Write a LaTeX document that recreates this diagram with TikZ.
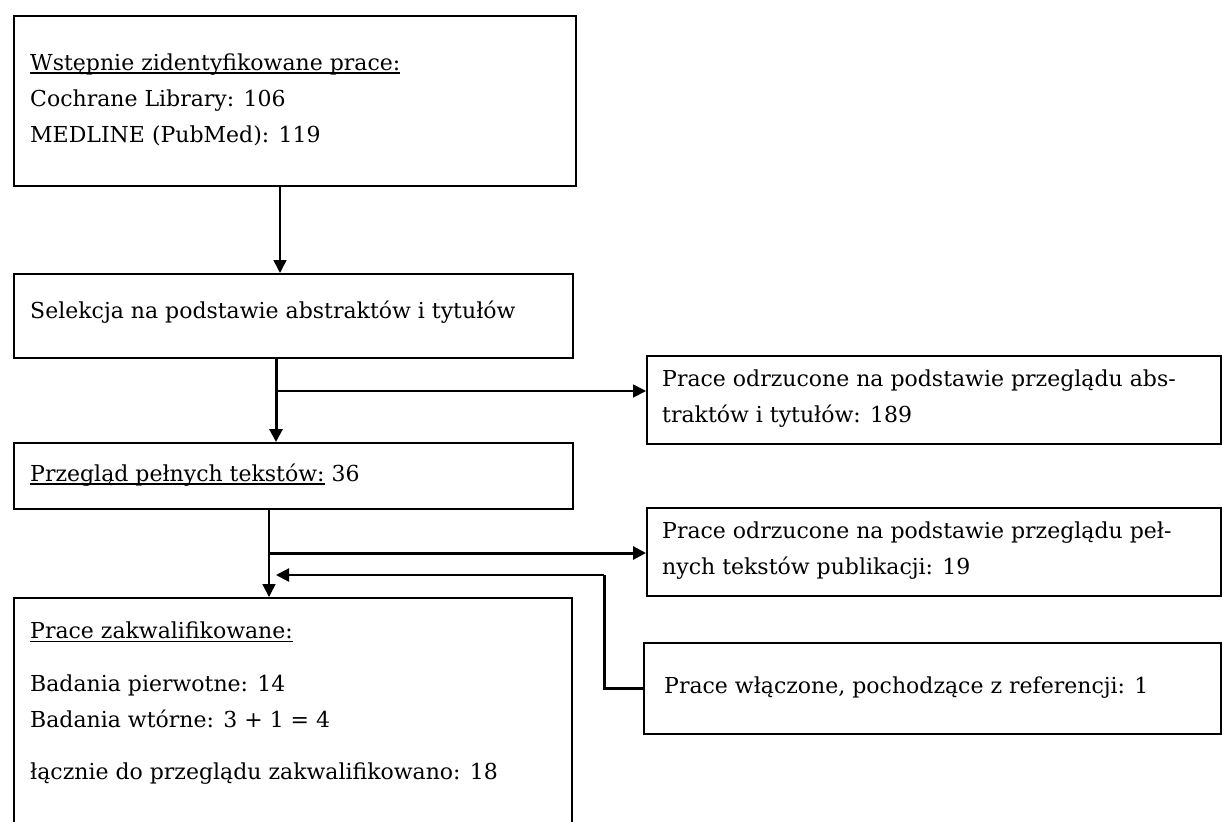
\documentclass[tikz,border=0pt]{standalone}
\usepackage{fontspec}
\setmainfont{DejaVu Serif}
\usetikzlibrary{arrows.meta}
\newcommand{\ul}[1]{\setbox0\hbox{#1}\rlap{\rule[-3.5pt]{\wd0}{1.8pt}}\box0\relax}
\tikzset{
  box/.style={draw=black, line width=2.4pt, fill=white, inner sep=0pt, anchor=north west},
  txt/.style={anchor=west, align=left, inner sep=0pt, font=\fontsize{22}{36}\selectfont},
  conn/.style={draw=black, line width=1.6pt},
  thick conn/.style={draw=black, line width=3pt},
  tip/.style={-{Triangle[length=13pt,width=13pt]}}
}
\begin{document}
\begin{tikzpicture}[x=1pt,y=-1pt]
\useasboundingbox[fill=white] (0,0) rectangle (1222,821);
% boxes
\node[box, minimum width=562pt, minimum height=170pt] (b1) at (13,15) {};
\node[box, minimum width=559pt, minimum height=84pt] (b2) at (13,273) {};
\node[box, minimum width=559pt, minimum height=66pt] (b3) at (13,442) {};
\node[box, minimum width=558pt, minimum height=240pt] (b4) at (13,597) {};
\node[box, minimum width=574pt, minimum height=88pt] (ba) at (646,355) {};
\node[box, minimum width=574pt, minimum height=88pt] (bb) at (646,507) {};
\node[box, minimum width=577pt, minimum height=91pt] (bc) at (643,642) {};
% texts
\node[txt] (t1) at (30,100) {\ul{Wstępnie zidentyfikowane prace:}\\Cochrane Library: 106\\MEDLINE (PubMed): 119};
\node[txt] (t2) at (30,312) {Selekcja na podstawie abstraktów i tytułów};
\node[txt] (t3) at (30,475) {\ul{Przegląd pełnych tekstów:} 36};
\node[txt, anchor=north west] (t4) at (30,622) {\ul{Prace zakwalifikowane:}\\[17pt]Badania pierwotne: 14\\Badania wtórne: 3 + 1 = 4\\[16pt]łącznie do przeglądu zakwalifikowano: 18};
\node[txt] (ta) at (662,399) {Prace odrzucone na podstawie przeglądu abs-\\traktów i tytułów: 189};
\node[txt] (tb) at (662,551) {Prace odrzucone na podstawie przeglądu peł-\\nych tekstów publikacji: 19};
\node[txt] (tc) at (664,688) {Prace włączone, pochodzące z referencji: 1};
% connectors
\coordinate (j1) at (276,391);
\coordinate (j2) at (269,553);
\coordinate (f1) at (604,688);
\coordinate (f2) at (604,575);
\coordinate (f3) at (276,575);
\draw[conn, tip] (b1.south -| 280,0) -- (b2.north -| 280,0);
\draw[thick conn, tip] (b2.south -| j1) -- (b3.north -| j1);
\draw[conn, tip] (j1) -- (j1 -| ba.west);
\draw[conn, tip] (b3.south -| j2) -- (b4.north -| j2);
\draw[thick conn, tip] (j2) -- (j2 -| bb.west);
\draw[thick conn] (bc.west |- f1) -- (f1) -- (f2);
\draw[conn, line width=2.2pt, tip] (f2) -- (f3);
\end{tikzpicture}
\end{document}
